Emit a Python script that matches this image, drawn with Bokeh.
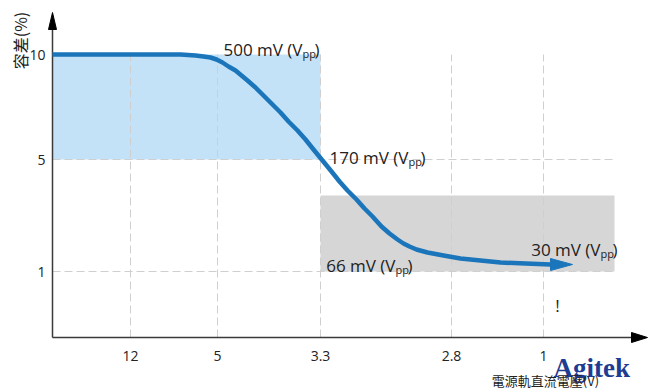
import numpy as np
from bokeh.plotting import figure
from bokeh.models import ColumnDataSource, Range1d
from bokeh.core.properties import value
from bokeh.embed import file_html
from bokeh.resources import INLINE

# ---- data (positions along the schematic axes) ----
x_labels = ["12", "5", "3.3", "2.8", "1"]
x_pos = [78, 165, 268, 399, 491]
y_labels = ["1", "5", "10"]
y_pos = [66, 178, 283]

curve_x = [0, 68, 128, 143, 151, 158, 164, 170, 176, 183, 189, 195, 203, 211,
           220, 228, 236, 245, 253, 261, 270, 279, 287, 295, 304, 312, 320,
           329, 337, 345, 351, 357, 364, 375, 391, 408, 428, 448, 473, 498, 520]
curve_y = [283, 283, 283, 282, 281, 280, 278, 275, 271, 267, 262, 257, 250, 242,
           233, 225, 216, 207, 198, 188, 177, 166, 156, 147, 138, 129, 121,
           111, 104, 98, 94, 91, 88, 85, 82, 79, 77, 75, 74, 73, 73]

band_left = [0, 268]
band_right = [268, 562]
band_bottom = [178, 66]
band_top = [283, 142]
band_colors = ["#c4e2f7", "#d6d6d6"]

ann_main = ["500 mV (V", "170 mV (V", "66 mV (V", "30 mV (V"]
ann_x = [250, 356, 343, 548]
ann_y = [288, 180, 72, 88]

y_title = "容差(%)"
x_title = "電源軌直流電壓(V)"

FONT = "Open Sans"
TXT = "#222222"
BLUE = "#1b75bb"
AX = "#3a3a3a"

p = figure(width=652, height=391, x_range=Range1d(-52, 600), y_range=Range1d(-54, 337),
           output_backend="svg", toolbar_location=None,
           min_border_left=0, min_border_right=0, min_border_top=0, min_border_bottom=0)
if p.title is not None:
    p.title.visible = False
p.axis.visible = False
p.outline_line_color = None
p.grid.visible = False
p.background_fill_color = "white"
p.border_fill_color = "white"

# bands
p.quad(left=band_left, right=band_right, bottom=band_bottom, top=band_top,
       fill_color=band_colors, line_color=None)

# dashed guide lines
p.segment(x0=x_pos, y0=[0] * len(x_pos), x1=x_pos, y1=[y_pos[-1]] * len(x_pos),
          line_color="#cfcfcf", line_width=1, line_dash="8 4")
p.segment(x0=[0, 0], y0=y_pos[:2], x1=[band_right[1]] * 2, y1=y_pos[:2],
          line_color="#cfcfcf", line_width=1, line_dash="8 4")

# axes with arrow heads
xmax = 595
ymax = 325
p.segment(x0=[0, 0], y0=[0, 0], x1=[xmax - 14, 0], y1=[0, ymax - 15],
          line_color=AX, line_width=1.5)
p.patch(x=[xmax - 16, xmax, xmax - 16], y=[-5, 0, 5], fill_color="black", line_color="black")
p.patch(x=[-4, 0, 4], y=[ymax - 17, ymax, ymax - 17], fill_color="black", line_color="black")

# tick labels
p.text(x=x_pos, y=[-18] * len(x_pos), text=x_labels, text_align="center",
       text_baseline="middle", text_font=value(FONT), text_font_size="14px",
       text_color=TXT)
p.text(x=[-7] * len(y_pos), y=y_pos, text=y_labels, text_align="right",
       text_baseline="middle", text_font=value(FONT), text_font_size="14px",
       text_color=TXT)

# curve with arrow head
head_len = 22
head_half = 6
tip_x, tip_y = curve_x[-1], curve_y[-1]
p.line(curve_x[:-1], curve_y[:-1], line_color=BLUE, line_width=4.5,
       line_join="round", line_cap="butt")
p.patch(x=[tip_x - head_len, tip_x, tip_x - head_len],
        y=[tip_y - head_half, tip_y, tip_y + head_half],
        fill_color=BLUE, line_color=BLUE)

# annotations with subscript
src = ColumnDataSource(dict(x=ann_x, y=ann_y, t=ann_main,
                            ys=[v - 4 for v in ann_y],
                            xc=[v + 12 for v in ann_x],
                            sub=["pp"] * len(ann_x), cl=[")"] * len(ann_x)))
p.text(x="x", y="y", text="t", source=src, text_align="right", text_baseline="alphabetic",
       text_font=value(FONT), text_font_size="17px", text_color=TXT)
p.text(x="x", y="ys", text="sub", source=src, text_align="left", text_baseline="alphabetic",
       text_font=value(FONT), text_font_size="11px", text_color=TXT)
p.text(x="xc", y="y", text="cl", source=src, text_align="left", text_baseline="alphabetic",
       text_font=value(FONT), text_font_size="17px", text_color=TXT)

p.text(x=[505], y=[32], text=["!"], text_align="center", text_baseline="middle",
       text_font=value(FONT), text_font_size="17px", text_color=TXT)

# axis titles and logo
p.text(x=[-33], y=[297], text=[y_title], angle=np.pi / 2, text_align="center",
       text_baseline="middle", text_font=value("Noto Sans CJK SC"),
       text_font_size="16px", text_color=TXT)
p.text(x=[501], y=[-30], text=["Agitek"], text_align="left", text_baseline="alphabetic",
       text_font=value("Liberation Serif"), text_font_style="bold",
       text_font_size="27px", text_color="#1f3c93")
p.text(x=[493], y=[-43], text=[x_title], text_align="center", text_baseline="middle",
       text_font=value("Noto Sans CJK TC"), text_font_size="13px", text_color=TXT)

open("out.html", "w").write(file_html(p, INLINE))
